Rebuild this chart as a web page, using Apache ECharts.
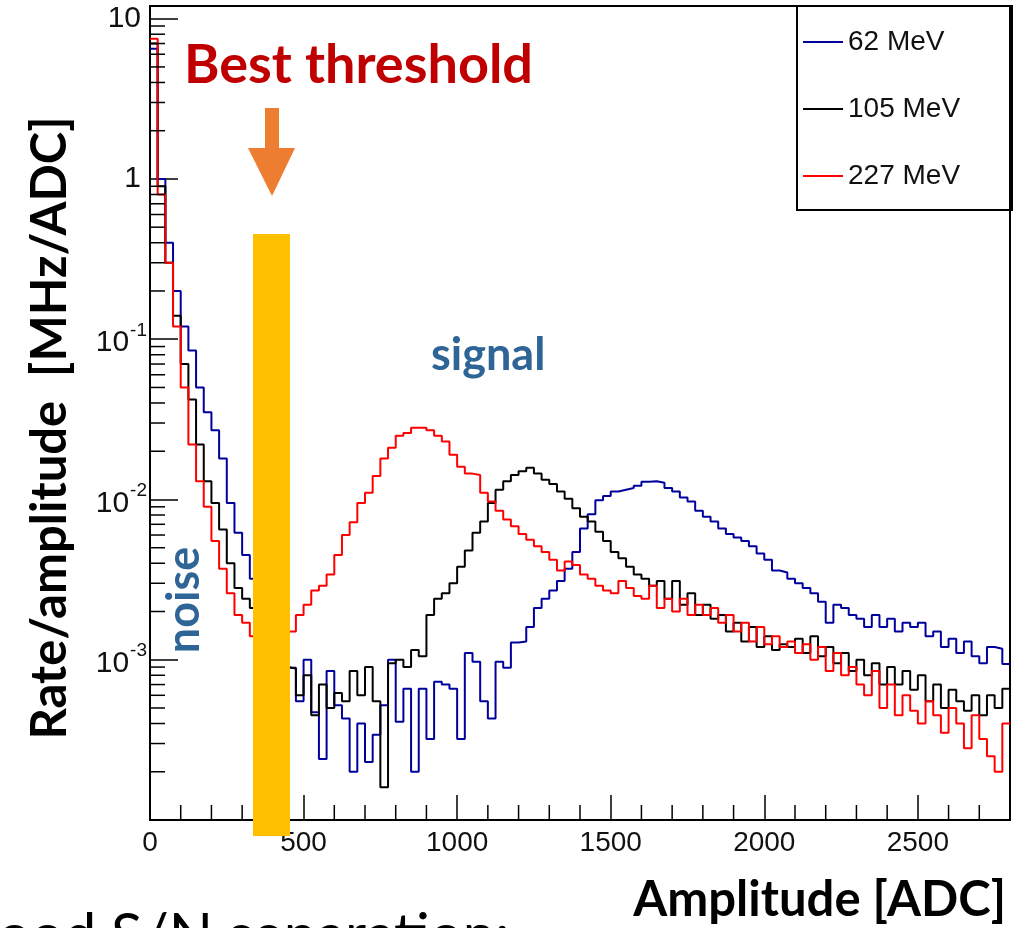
<!DOCTYPE html>
<html>
<head>
<meta charset="utf-8">
<script src="https://cdn.jsdelivr.net/npm/echarts@6/dist/echarts.min.js"></script>
<style>
  html, body { margin: 0; padding: 0; background: #fff; }
  #chart { width: 1028px; height: 928px; }
</style>
</head>
<body>
<div id="chart"></div>
<script>
// ---- Data (histograms, 25 ADC bins from 0 to 2800) ----
const BIN_WIDTH = 25;
const X_MAX = 2800;
const SERIES_NAMES = ['62 MeV', '105 MeV', '227 MeV'];

const rate62 = [
  6.5, 1.0, 0.4, 0.2, 0.12, 0.085, 0.05, 0.035, 0.027, 0.018,
  0.0095, 0.0062, 0.0045, 0.0032, 0.0022, 0.0015, 0.0012, 0.001, 0.00089, 0.00055,
  0.001, 0.00047, 0.00024, 0.00085, 0.00052, 0.00043, 0.0002, 0.0004, 0.00023, 0.00034,
  0.00052, 0.001, 0.00041, 0.00066, 0.0002, 0.00066, 0.00032, 0.00073, 0.0007, 0.00066,
  0.00032, 0.0011, 0.00097, 0.00055, 0.00043, 0.00097, 0.00089, 0.00128, 0.0013, 0.0016,
  0.0021, 0.0024, 0.0027, 0.0031, 0.0037, 0.0047, 0.0066, 0.0081, 0.0099, 0.0105,
  0.0112, 0.0115, 0.0118, 0.0122, 0.0129, 0.013, 0.0127, 0.0118, 0.0112, 0.0103,
  0.0097, 0.0085, 0.0078, 0.0073, 0.0066, 0.0061, 0.0058, 0.0055, 0.0051, 0.0046,
  0.0042, 0.0036, 0.0035, 0.0032, 0.0030, 0.0028, 0.0026, 0.0023, 0.0017, 0.0022,
  0.0021, 0.0019, 0.0018, 0.0016, 0.0019, 0.0016, 0.0018, 0.0015, 0.0017, 0.0016,
  0.0017, 0.0014, 0.0015, 0.0012, 0.00135, 0.0011, 0.0013, 0.00105, 0.00095, 0.0012,
  0.00117, 0.00094
];

const rate105 = [
  7.0, 0.9, 0.3, 0.14, 0.07, 0.042, 0.022, 0.013, 0.0095, 0.0065,
  0.004, 0.0028, 0.0024, 0.0021, 0.0014, 0.0012, 0.001, 0.0009, 0.00088, 0.0006,
  0.0008, 0.00045, 0.0007, 0.0005, 0.00062, 0.00055, 0.00085, 0.0006, 0.0009, 0.00055,
  0.00016, 0.00095, 0.001, 0.0009, 0.00115, 0.00105, 0.0019, 0.0024, 0.0026, 0.003,
  0.0038, 0.0048, 0.0062, 0.0073, 0.0095, 0.0115, 0.013, 0.0142, 0.015, 0.0158,
  0.0145, 0.0133, 0.0125, 0.0112, 0.0101, 0.0088, 0.0078, 0.0073, 0.0063, 0.0055,
  0.0047, 0.0043, 0.0038, 0.0034, 0.0032, 0.0029, 0.0031, 0.0024, 0.0031, 0.0022,
  0.0026, 0.0019, 0.0022, 0.0018, 0.0019, 0.0015, 0.0017, 0.0013, 0.0016, 0.0012,
  0.0014, 0.00115, 0.00125, 0.0012, 0.00135, 0.0011, 0.0014, 0.00105, 0.0012, 0.00095,
  0.0011, 0.00085, 0.001, 0.0008, 0.00095, 0.0007, 0.0009, 0.0007, 0.00085, 0.00065,
  0.0008, 0.00055, 0.0007, 0.0005, 0.00065, 0.00055, 0.00048, 0.0006, 0.00045, 0.0006,
  0.0005, 0.00066
];

const rate227 = [
  7.5, 0.8, 0.3, 0.12, 0.05, 0.022, 0.013, 0.009, 0.0055, 0.0037,
  0.0026, 0.0019, 0.0017, 0.0014, 0.0013, 0.0016, 0.0015, 0.0014, 0.0015, 0.0019,
  0.0022, 0.0027, 0.0029, 0.0034, 0.0045, 0.006, 0.0072, 0.0095, 0.011, 0.014,
  0.018, 0.021, 0.025, 0.026, 0.028, 0.028, 0.027, 0.025, 0.023, 0.019,
  0.016, 0.0145, 0.0142, 0.011, 0.0097, 0.0085, 0.0075, 0.0068, 0.0061, 0.0056,
  0.0051, 0.0047, 0.0042, 0.0036, 0.0041, 0.0039, 0.0034, 0.0032, 0.0029, 0.0027,
  0.0026, 0.0031, 0.0028, 0.0025, 0.0024, 0.0029, 0.0021, 0.0024, 0.0020, 0.0024,
  0.0019, 0.0022, 0.0019, 0.0021, 0.0017, 0.0019, 0.0015, 0.0017, 0.0013, 0.0016,
  0.00125, 0.0014, 0.0012, 0.0013, 0.0011, 0.00125, 0.0010, 0.0012, 0.00085, 0.0011,
  0.0008, 0.0009, 0.0007, 0.0006, 0.00085, 0.0005, 0.0007, 0.00045, 0.0006, 0.00048,
  0.0004, 0.00055, 0.00045, 0.00035, 0.0005, 0.0004, 0.00028, 0.00045, 0.00032, 0.00025,
  0.0002, 0.0004
];

const X_TICK_INTERVAL = 500;
const X_MINOR_TICKS = [100,200,300,400,600,700,800,900,1100,1200,1300,1400,1600,1700,1800,1900,2100,2200,2300,2400,2600,2700];
const Y_MIN = 1e-4, Y_MAX = 12;
const Y_MINOR_TICKS = [];
[1e-4, 1e-3, 1e-2, 1e-1, 1].forEach(d => { for (let m = 2; m <= 9; m++) Y_MINOR_TICKS.push(m * d); });

// ---- Build step histogram points from bin edges ----
function histPoints(vals) {
  const pts = vals.map((v, i) => [i * BIN_WIDTH, v]);
  pts.push([vals.length * BIN_WIDTH, vals[vals.length - 1]]);
  return pts;
}

const chart = echarts.init(document.getElementById('chart'), null, { renderer: 'canvas' });

const TICK_FONT = '"Liberation Sans", Arial, sans-serif';
const TITLE_FONT = 'Lato, "Open Sans", sans-serif';

function yLabel(v) {
  const l = Math.log10(v);
  const k = Math.round(l);
  if (Math.abs(l - k) > 0.01) return '';
  if (k === 1) return '{p|10}';
  if (k === 0) return '{p|1}';
  if (k < 0 && k >= -3) return '{b|10}{s|-' + (-k) + '}';
  return '';
}

const option = {
  animation: false,
  backgroundColor: '#ffffff',
  grid: { left: 150, right: 18, top: 6, bottom: 108, show: true, borderColor: '#000', borderWidth: 2, backgroundColor: 'transparent' },
  legend: {
    data: SERIES_NAMES,
    orient: 'vertical',
    left: 803, top: 27,
    padding: 0,
    itemGap: 37,
    itemWidth: 40, itemHeight: 2,
    icon: 'rect',
    textStyle: { fontFamily: TICK_FONT, fontSize: 28, color: '#111', lineHeight: 30 }
  },
  xAxis: {
    type: 'value', min: 0, max: X_MAX, interval: X_TICK_INTERVAL,
    axisLine: { show: true, lineStyle: { color: '#000', width: 2 } },
    axisTick: { show: true, inside: true, length: 25, lineStyle: { color: '#000', width: 1.5 } },
    axisLabel: { fontFamily: TICK_FONT, fontSize: 28, color: '#111', margin: 9, showMaxLabel: false,
      formatter: v => String(v) },
    splitLine: { show: false }
  },
  yAxis: {
    type: 'log', logBase: 10, min: Y_MIN, max: Y_MAX,
    axisLine: { show: true, lineStyle: { color: '#000', width: 2 } },
    axisTick: { show: true, inside: true, length: 28, lineStyle: { color: '#000', width: 1.5 } },
    axisLabel: {
      fontFamily: TICK_FONT, fontSize: 30, color: '#111', margin: 3,
      showMinLabel: false,
      formatter: yLabel,
      rich: {
        p: { fontFamily: TICK_FONT, fontSize: 30, color: '#111', lineHeight: 30, padding: [0, 6, 0, 0] },
        b: { fontFamily: TICK_FONT, fontSize: 30, color: '#111', lineHeight: 30, padding: [8, 0, 0, 0] },
        s: { fontFamily: TICK_FONT, fontSize: 19, color: '#111', lineHeight: 19, padding: [0, 0, 17, 1] }
      }
    },
    splitLine: { show: false }
  },
  series: [
    { name: SERIES_NAMES[0], type: 'line', step: 'end', showSymbol: false, color: '#00009c',
      lineStyle: { width: 2, color: '#00009c' }, data: histPoints(rate62), z: 2 },
    { name: SERIES_NAMES[1], type: 'line', step: 'end', showSymbol: false, color: '#000000',
      lineStyle: { width: 2, color: '#000000' }, data: histPoints(rate105), z: 3 },
    { name: SERIES_NAMES[2], type: 'line', step: 'end', showSymbol: false, color: '#ff0000',
      lineStyle: { width: 2, color: '#ff0000' }, data: histPoints(rate227), z: 4 },
    { type: 'custom', silent: true, clip: false, z: 5,
      data: Y_MINOR_TICKS.map(v => [0, v]),
      renderItem: (params, api) => {
        const p = api.coord([api.value(0), api.value(1)]);
        return { type: 'line', shape: { x1: p[0], y1: p[1], x2: p[0] + 15, y2: p[1] }, style: { stroke: '#000', lineWidth: 1.5 } };
      } },
    { type: 'custom', silent: true, clip: false, z: 5,
      data: X_MINOR_TICKS.map(v => [v, Y_MIN]),
      renderItem: (params, api) => {
        const p = api.coord([api.value(0), api.value(1)]);
        return { type: 'line', shape: { x1: p[0], y1: p[1], x2: p[0], y2: p[1] - 15 }, style: { stroke: '#000', lineWidth: 1.5 } };
      } }
  ],
  graphic: [
    { type: 'rect', z: 50, shape: { x: 797, y: 6, width: 215, height: 204 }, style: { fill: 'none', stroke: '#000', lineWidth: 2 } },
    { type: 'rect', z: 60, shape: { x: 253, y: 234, width: 37, height: 602 }, style: { fill: '#FFC000' } },
    { type: 'polygon', z: 60, shape: { points: [[265,108],[279,108],[279,148],[295,148],[272,196],[248,148],[265,148]] }, style: { fill: '#ED7D31' } },
    { type: 'text', z: 60, x: 184, y: 66, style: { text: 'Best threshold', fontFamily: TITLE_FONT, fontWeight: 'bold', fontSize: 54, fill: '#C00000', textAlign: 'left', textVerticalAlign: 'middle' } },
    { type: 'text', z: 60, x: 431, y: 355, style: { text: 'signal', fontFamily: TITLE_FONT, fontWeight: 'bold', fontSize: 45, fill: '#2F6496', textAlign: 'left', textVerticalAlign: 'middle' } },
    { type: 'text', z: 60, x: 184, y: 600, rotation: Math.PI / 2, style: { text: 'noise', fontFamily: TITLE_FONT, fontWeight: 'bold', fontSize: 45, fill: '#2F6496', textAlign: 'center', textVerticalAlign: 'middle' } },
    { type: 'text', z: 60, x: 50, y: 428, rotation: Math.PI / 2, style: { text: 'Rate/amplitude  [MHz/ADC]', fontFamily: TITLE_FONT, fontWeight: 'bold', fontSize: 49, fill: '#000', textAlign: 'center', textVerticalAlign: 'middle' } },
    { type: 'text', z: 60, x: 1006, y: 900, style: { text: 'Amplitude [ADC]', fontFamily: TITLE_FONT, fontWeight: 'bold', fontSize: 49, fill: '#000', textAlign: 'right', textVerticalAlign: 'middle' } },
    { type: 'text', z: 60, x: -2, y: 936, style: { text: 'ood S/N separation:', fontFamily: TITLE_FONT, fontSize: 58, fill: '#000', textAlign: 'left', textVerticalAlign: 'middle' } }
  ]
};

chart.setOption(option);
</script>
</body>
</html>
